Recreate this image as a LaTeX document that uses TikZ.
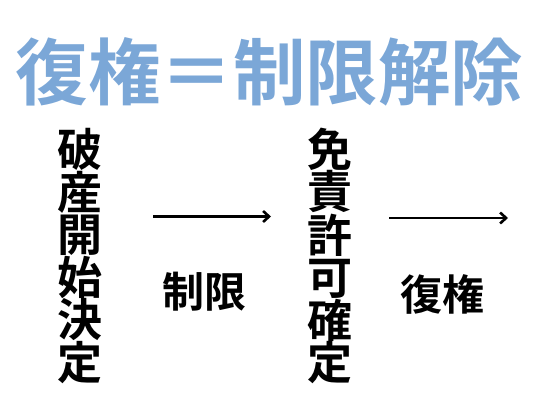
\documentclass[tikz,border=0pt]{standalone}
\usepackage{fontspec}
\usetikzlibrary{arrows.meta}
\newfontfamily\jpb{Noto Sans CJK JP Bold}
\definecolor{titleblue}{HTML}{7BA7D7}
\tikzset{
  titletext/.style={font=\jpb\fontsize{72.5}{72.5}\selectfont, text=titleblue, inner sep=0pt},
  vcol/.style={font=\jpb\fontsize{45}{42.5}\selectfont, align=center, inner sep=0pt, text=black},
  lbl/.style={font=\jpb\fontsize{42}{42}\selectfont, inner sep=0pt, text=black},
  arr/.style={line width=2.8pt, -{Straight Barb[length=6pt,width=11pt,line width=2.6pt]}}
}
\begin{document}
\begin{tikzpicture}[x=1pt,y=-1pt]
\useasboundingbox (0,0) rectangle (540,405);
\node[titletext] (title) at (269.5,72) {復権＝制限解除};
\node[vcol] (c1) at (80,256) {破\\産\\開\\始\\決\\定};
\node[vcol] (c2) at (330,256) {免\\責\\許\\可\\確\\定};
\coordinate (a1s) at (153,216.5);
\coordinate (a1e) at (271,216.5);
\coordinate (a2s) at (389,218);
\coordinate (a2e) at (508,218);
\draw[arr] (a1s) -- (a1e);
\draw[arr] (a2s) -- (a2e);
\node[lbl] (l1) at (204,292) {制限};
\node[lbl] (l2) at (442,294) {復権};
\end{tikzpicture}
\end{document}
